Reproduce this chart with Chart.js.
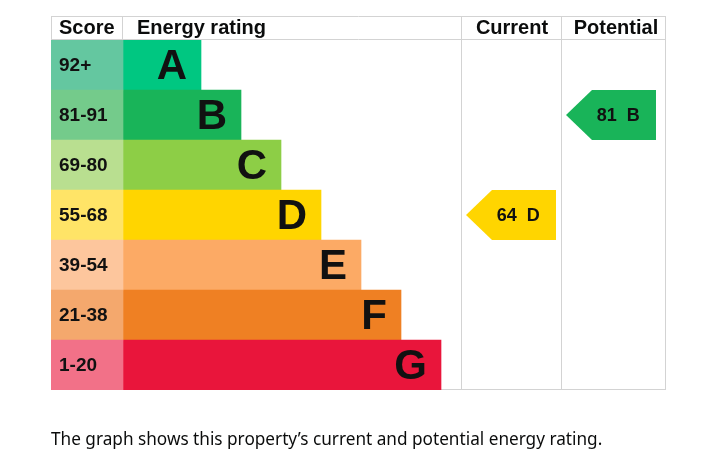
<!DOCTYPE html>
<html>
<head>
<meta charset="utf-8">
<script src="https://cdn.jsdelivr.net/npm/chart.js@4"></script>
<style>
  body { margin: 0; background: #fff; }
  #wrap { position: relative; width: 710px; height: 471px; }
  #caption {
    position: absolute; left: 51px; top: 427px;
    font-family: "Noto Sans", sans-serif; font-size: 17.2px; color: #0b0c0c;
    white-space: nowrap;
  }
</style>
</head>
<body>
<div id="wrap">
  <canvas id="epc"></canvas>
  <div id="caption">The graph shows this property’s current and potential energy rating.</div>
</div>
<script>
// --- DATA ---
const bands = ['A', 'B', 'C', 'D', 'E', 'F', 'G'];
const scoreRanges = ['92+', '81-91', '69-80', '55-68', '39-54', '21-38', '1-20'];
const bandMinScores = [92, 81, 69, 55, 39, 21, 1];
const ratingBarLengths = [78, 118, 158, 198, 238, 278, 318];
const barColours = ['#00c781', '#19b459', '#8dce46', '#ffd500', '#fcaa65', '#ef8023', '#e9153b'];
const scoreColours = ['#64c7a0', '#74cb8b', '#b9df90', '#ffe467', '#fdc69d', '#f4a86d', '#f27188'];
const currentScore = 64;
const potentialScore = 81;

// table layout (x units across the table)
const scoreColWidth = 72;
const currentCol = [410, 510];
const potentialCol = [510, 614];
const tableWidth = 614;
const arrowWidth = 90;

const lineColour = '#d3d3d3';

function bandIndex(score) {
    for (let i = 0; i < bandMinScores.length; i++) {
        if (score >= bandMinScores[i]) return i;
    }
    return bandMinScores.length - 1;
}

// --- GRID LINES (under the bars) ---
const epcGrid = {
    id: 'epcGrid',
    beforeDatasetsDraw(chart) {
        const ctx = chart.ctx;
        const xs = chart.scales.x;
        const area = chart.chartArea;
        const headTop = area.top - 24;

        ctx.save();
        ctx.strokeStyle = lineColour;
        ctx.lineWidth = 1;
        const line = (x1, y1, x2, y2) => {
            ctx.beginPath();
            ctx.moveTo(x1, y1);
            ctx.lineTo(x2, y2);
            ctx.stroke();
        };
        const left = Math.round(xs.getPixelForValue(0)) + 0.5;
        const right = Math.round(xs.getPixelForValue(tableWidth)) + 0.5;
        const scoreX = Math.round(xs.getPixelForValue(scoreColWidth)) - 0.5;
        const curX = Math.round(xs.getPixelForValue(currentCol[0])) + 0.5;
        const potX = Math.round(xs.getPixelForValue(potentialCol[0])) + 0.5;
        line(left, headTop + 0.5, right, headTop + 0.5);
        line(left, area.top - 0.5, right, area.top - 0.5);
        line(left, headTop, left, area.top);
        line(scoreX, headTop, scoreX, area.top);
        line(curX, headTop, curX, area.bottom);
        line(potX, headTop, potX, area.bottom);
        line(right, headTop, right, area.bottom);
        line(left, area.bottom - 0.5, right, area.bottom - 0.5);
        ctx.restore();
    }
};

// --- LABELS AND ARROWS ---
const epcLabels = {
    id: 'epcLabels',
    afterDatasetsDraw(chart) {
        const ctx = chart.ctx;
        const xs = chart.scales.x;
        const ys = chart.scales.y;
        const area = chart.chartArea;
        const rowH = ys.getPixelForValue(1) - ys.getPixelForValue(0);
        const headY = area.top - 12;

        ctx.save();
        ctx.textBaseline = 'middle';

        // header
        ctx.fillStyle = '#0b0c0c';
        ctx.font = 'bold 20px "Liberation Sans", Arial, sans-serif';
        ctx.textAlign = 'left';
        ctx.fillText('Score', xs.getPixelForValue(0) + 8, headY);
        ctx.fillText('Energy rating', xs.getPixelForValue(scoreColWidth) + 14, headY);
        ctx.textAlign = 'center';
        ctx.fillText('Current', xs.getPixelForValue((currentCol[0] + currentCol[1]) / 2) + 1, headY);
        ctx.fillText('Potential', xs.getPixelForValue((potentialCol[0] + potentialCol[1]) / 2) + 3, headY);

        // score range labels
        ctx.fillStyle = '#111';
        ctx.textAlign = 'left';
        ctx.font = 'bold 19px "Liberation Sans", Arial, sans-serif';
        chart.getDatasetMeta(0).data.forEach((bar, i) => {
            ctx.fillText(scoreRanges[i], bar.base + 8, bar.y + 1);
        });

        // band letters
        ctx.textAlign = 'right';
        ctx.font = 'bold 42px "Liberation Sans", Arial, sans-serif';
        chart.getDatasetMeta(1).data.forEach((bar, i) => {
            ctx.fillText(bands[i], bar.x - 14, bar.y + 2);
        });

        // current / potential arrows
        const drawArrow = (score, col) => {
            const b = bandIndex(score);
            const cy = ys.getPixelForValue(b);
            const top = cy - rowH / 2;
            const bottom = cy + rowH / 2;
            const tip = xs.getPixelForValue(col[0]) + 5;
            const end = tip + (xs.getPixelForValue(arrowWidth) - xs.getPixelForValue(0));
            const notch = tip + 26;
            ctx.fillStyle = barColours[b];
            ctx.beginPath();
            ctx.moveTo(tip, cy);
            ctx.lineTo(notch, top);
            ctx.lineTo(end, top);
            ctx.lineTo(end, bottom);
            ctx.lineTo(notch, bottom);
            ctx.closePath();
            ctx.fill();
            ctx.fillStyle = '#111';
            ctx.textAlign = 'center';
            ctx.font = 'bold 18px "Liberation Sans", Arial, sans-serif';
            ctx.fillText(score + '  ' + bands[b], tip + (end - tip) * 0.58, cy + 1);
        };
        drawArrow(currentScore, currentCol);
        drawArrow(potentialScore, potentialCol);

        ctx.restore();
    }
};

// --- CHART ---
const ctx = document.getElementById('epc').getContext('2d');

new Chart(ctx, {
    type: 'bar',
    data: {
        labels: bands,
        datasets: [{
            label: 'Score',
            data: bands.map(() => scoreColWidth),
            backgroundColor: scoreColours,
            borderWidth: 0,
            barPercentage: 1,
            categoryPercentage: 1
        }, {
            label: 'Energy rating',
            data: ratingBarLengths,
            backgroundColor: barColours,
            borderWidth: 0,
            barPercentage: 1,
            categoryPercentage: 1
        }]
    },
    options: {
        indexAxis: 'y',
        responsive: true,
        maintainAspectRatio: false,
        animation: false,
        devicePixelRatio: 1,
        layout: { padding: { left: 51, right: 45, top: 40, bottom: 81 } },
        plugins: {
            legend: { display: false },
            tooltip: { enabled: false }
        },
        scales: {
            x: { type: 'linear', min: 0, max: tableWidth, stacked: true, display: false },
            y: { type: 'category', stacked: true, display: false }
        }
    },
    plugins: [epcGrid, epcLabels]
});
</script>
</body>
</html>
